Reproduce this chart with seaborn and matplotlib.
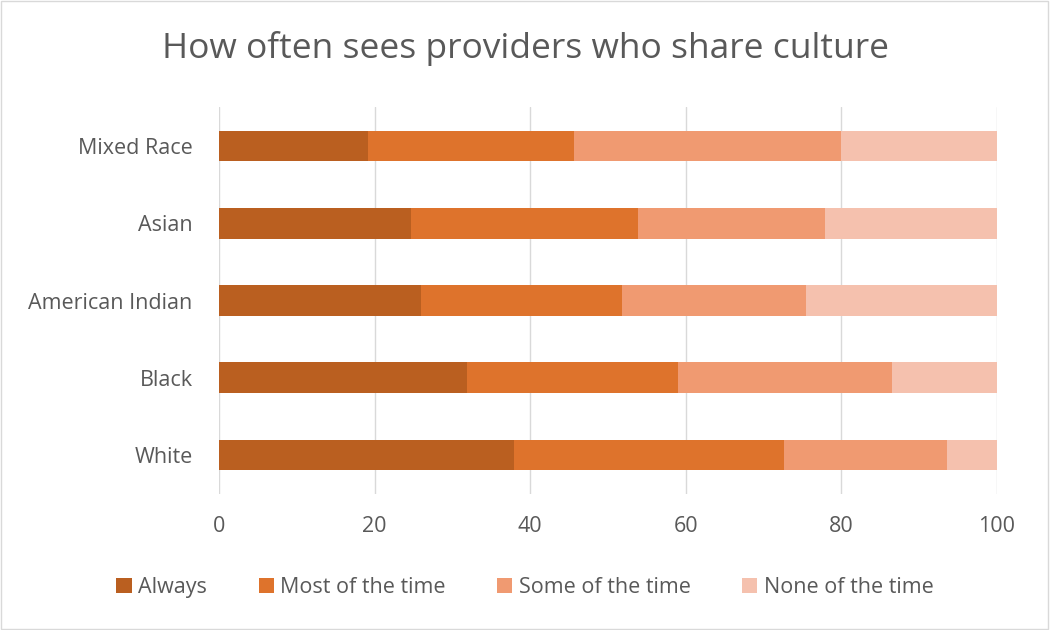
import matplotlib
matplotlib.use("Agg")
import matplotlib.pyplot as plt
import seaborn as sns
import numpy as np
import pandas as pd
from matplotlib.patches import Rectangle, Patch

groups = ["Mixed Race", "Asian", "American Indian", "Black", "White"]
series = ["Always", "Most of the time", "Some of the time", "None of the time"]
always = [19.1, 24.7, 26.0, 31.9, 37.9]
most_time = [26.5, 29.1, 25.8, 27.1, 34.7]
some_time = [34.4, 24.1, 23.7, 27.5, 21.0]
none_time = [20.0, 22.1, 24.5, 13.5, 6.4]
colors = ["#BA5F20", "#DE732C", "#F09A71", "#F5C1AE"]

sns.set_theme(style="white")
plt.rcParams["font.family"] = ["Open Sans", "DejaVu Sans"]
text_color = "#595959"

df = pd.DataFrame({"group": groups, "Always": always, "Most of the time": most_time,
                   "Some of the time": some_time, "None of the time": none_time})

fig = plt.figure(figsize=(10.5, 6.3), dpi=100)
ax = fig.add_axes([0.2086, 0.2165, 0.7409, 0.6130])

# stacked bars: draw cumulative totals from the widest down
cum = df[series].cumsum(axis=1)
for s, c in reversed(list(zip(series, colors))):
    sns.barplot(x=cum[s], y=df["group"], color=c, width=0.4, orient="h",
                ax=ax, saturation=1, edgecolor="none", zorder=3)

ax.set_xlim(0, 100)
ax.set_xticks(np.arange(0, 101, 20))
ax.grid(axis="x", color="#D9D9D9", linewidth=1, zorder=0)
ax.grid(axis="y", visible=False)
for sp in ax.spines.values():
    sp.set_visible(False)
ax.set_xlabel("")
ax.set_ylabel("")
ax.tick_params(axis="x", length=0, pad=16, labelsize=15.5, labelcolor=text_color)
ax.tick_params(axis="y", length=0, pad=19, labelsize=15.5, labelcolor=text_color)

fig.suptitle("How often sees providers who share culture", x=0.5, y=0.95,
             fontsize=25.5, color=text_color)

handles = [Patch(facecolor=c, edgecolor="none") for c in colors]
fig.legend(handles, series, loc="center", bbox_to_anchor=(0.5, 0.068), ncol=4,
           frameon=False, fontsize=15.5, labelcolor=text_color, handlelength=0.7,
           handleheight=0.7, handletextpad=0.3, columnspacing=2.4)

fig.add_artist(Rectangle((0.001, 0.001), 0.997, 0.997, transform=fig.transFigure,
                         fill=False, edgecolor="#D9D9D9", linewidth=1))

fig.savefig("out.png", dpi=100)
